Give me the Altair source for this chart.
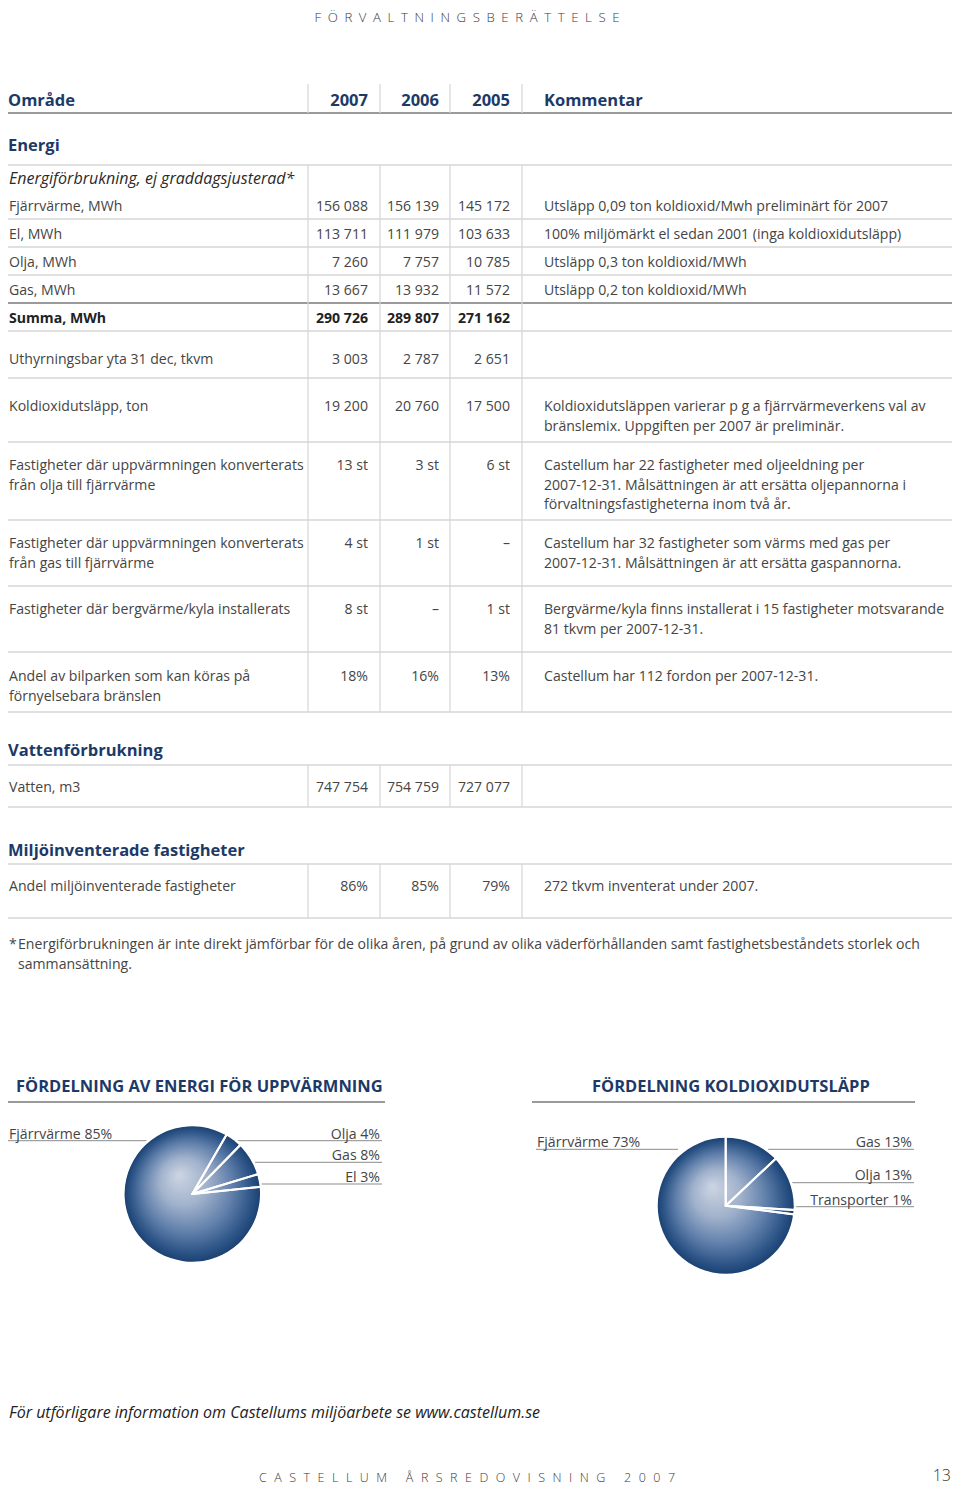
import math
import altair as alt
import pandas as pd

# ---------------- data ----------------
page_header = "FÖRVALTNINGSBERÄTTELSE"
page_footer_words = ["CASTELLUM", "ÅRSREDOVISNING", "2007"]
page_number = "13"

col_headers = ["Område", "Kommentar"]
years = ["2007", "2006", "2005"]
section_titles = ["Energi", "Vattenförbrukning", "Miljöinventerade fastigheter"]

row_labels = [
    "Energiförbrukning, ej graddagsjusterad*",
    "Fjärrvärme, MWh",
    "El, MWh",
    "Olja, MWh",
    "Gas, MWh",
    "Summa, MWh",
    "Uthyrningsbar yta 31 dec, tkvm",
    "Koldioxidutsläpp, ton",
    "Fastigheter där uppvärmningen konverterats\nfrån olja till fjärrvärme",
    "Fastigheter där uppvärmningen konverterats\nfrån gas till fjärrvärme",
    "Fastigheter där bergvärme/kyla installerats",
    "Andel av bilparken som kan köras på\nförnyelsebara bränslen",
    "Vatten, m3",
    "Andel miljöinventerade fastigheter",
]
values_2007 = ["", "156 088", "113 711", "7 260", "13 667", "290 726", "3 003", "19 200",
               "13 st", "4 st", "8 st", "18%", "747 754", "86%"]
values_2006 = ["", "156 139", "111 979", "7 757", "13 932", "289 807", "2 787", "20 760",
               "3 st", "1 st", "–", "16%", "754 759", "85%"]
values_2005 = ["", "145 172", "103 633", "10 785", "11 572", "271 162", "2 651", "17 500",
               "6 st", "–", "1 st", "13%", "727 077", "79%"]
comments = [
    "",
    "Utsläpp 0,09 ton koldioxid/Mwh preliminärt för 2007",
    "100% miljömärkt el sedan 2001 (inga koldioxidutsläpp)",
    "Utsläpp 0,3 ton koldioxid/MWh",
    "Utsläpp 0,2 ton koldioxid/MWh",
    "",
    "",
    "Koldioxidutsläppen varierar p g a fjärrvärmeverkens val av\nbränslemix. Uppgiften per 2007 är preliminär.",
    "Castellum har 22 fastigheter med oljeeldning per\n2007-12-31. Målsättningen är att ersätta oljepannorna i\nförvaltningsfastigheterna inom två år.",
    "Castellum har 32 fastigheter som värms med gas per\n2007-12-31. Målsättningen är att ersätta gaspannorna.",
    "Bergvärme/kyla finns installerat i 15 fastigheter motsvarande\n81 tkvm per 2007-12-31.",
    "Castellum har 112 fordon per 2007-12-31.",
    "",
    "272 tkvm inventerat under 2007.",
]
footnote_mark = "*"
footnote = ("Energiförbrukningen är inte direkt jämförbar för de olika åren, på grund av olika "
            "väderförhållanden samt fastighetsbeståndets storlek och\nsammansättning.")
more_info = "För utförligare information om Castellums miljöarbete se www.castellum.se"

pie1_title = "FÖRDELNING AV ENERGI FÖR UPPVÄRMNING"
pie1_labels = ["Olja", "Gas", "El", "Fjärrvärme"]
pie1_values = [4, 8, 3, 85]
pie2_title = "FÖRDELNING KOLDIOXIDUTSLÄPP"
pie2_labels = ["Gas", "Olja", "Transporter", "Fjärrvärme"]
pie2_values = [13, 13, 1, 73]

# ---------------- layout / style ----------------
FONT = "Open Sans"
BODY = 14.1
LH = 19.5
TEXT = "#454545"
NAVY = "#1c3a68"
LIGHT = "#d6d6d6"
DARK_LINE = "#9a9a9a"

W, H = 944, 1478
X = alt.X("x:Q", scale=alt.Scale(domain=[8, 8 + W], nice=False, zero=False), axis=None)
Y = alt.Y("y:Q", scale=alt.Scale(domain=[8, 8 + H], nice=False, zero=False, reverse=True), axis=None)

LABEL_X = 9
YEAR_RIGHT = [368, 439, 510]
COMMENT_X = 544
DIV_X = [308, 380, 450, 522]
DIV_SPANS = [(84, 113), (165, 712), (765, 807), (864, 918)]
HEADER_Y = 100
SECTION_Y = [145, 750, 850]
SECTION_LINES = [165, 765, 864]
ROW_Y = [179, 206, 234, 262, 290, 318, 359, 406, 465, 543, 609, 676, 787, 886]
ROW_LINES = [219, 247, 275, 331, 378, 442, 520, 586, 652, 712, 807, 918]
THICK_LINES = [113, 303]
ITALIC_ROWS = {0}
BOLD_ROWS = {5}


def off(size):
    return round(0.36 * size)


def tdf(xs, ys, ts):
    return pd.DataFrame({"x": xs, "y": ys, "t": ts})


def tx(df, align="left", size=BODY, weight=400, style="normal", color=TEXT):
    return alt.Chart(df).mark_text(
        align=align, baseline="alphabetic", font=FONT, fontSize=size,
        fontWeight=weight, fontStyle=style, color=color, lineBreak="\n", lineHeight=LH,
    ).encode(x=X, y=Y, text=alt.Text("t:N"))


def hrules(xs, x2s, ys, color, width):
    df = pd.DataFrame({"x": xs, "x2": x2s, "y": ys})
    return alt.Chart(df).mark_rule(color=color, strokeWidth=width).encode(
        x=X, x2=alt.X2("x2:Q"), y=Y)


def vrules(xs, ys, y2s, color, width):
    df = pd.DataFrame({"x": xs, "y": ys, "y2": y2s})
    return alt.Chart(df).mark_rule(color=color, strokeWidth=width).encode(
        x=X, y=Y, y2=alt.Y2("y2:Q"))


layers = []

# grid lines
hl = ROW_LINES + SECTION_LINES
layers.append(hrules([0] * len(hl), [960] * len(hl), hl, LIGHT, 1.3))
layers.append(hrules([0] * len(THICK_LINES), [960] * len(THICK_LINES), THICK_LINES, DARK_LINE, 2))
vx, vy, vy2 = [], [], []
for (a, b) in DIV_SPANS:
    for x in DIV_X:
        vx.append(x); vy.append(a); vy2.append(b)
layers.append(vrules(vx, vy, vy2, LIGHT, 1.2))

# page header / footer
layers.append(tx(tdf([467], [21.5], ["\u2002".join(page_header)]),
                 align="center", size=13.2, weight=300, color="#3a3a3a"))
footer = "\u2003\u2002".join("\u2002\u200a".join(w) for w in page_footer_words)
layers.append(tx(tdf([467], [1482], [footer]), align="center", size=12.5, weight=300,
                 color="#3a3a3a"))
layers.append(tx(tdf([951], [1481], [page_number]), align="right", size=16, weight=300,
                 color="#333333"))

# column headers
HS = 16.5
layers.append(tx(tdf([LABEL_X - 1, COMMENT_X], [HEADER_Y + off(HS)] * 2, col_headers),
                 size=HS, weight="bold", color=NAVY))
layers.append(tx(tdf(YEAR_RIGHT, [HEADER_Y + off(HS)] * 3, years),
                 align="right", size=HS, weight="bold", color=NAVY))
# section titles
layers.append(tx(tdf([LABEL_X - 1] * 3, [y + off(HS) for y in SECTION_Y], section_titles),
                 size=HS, weight="bold", color=NAVY))

# row labels
reg = [i for i in range(len(row_labels)) if i not in ITALIC_ROWS and i not in BOLD_ROWS]
layers.append(tx(tdf([LABEL_X] * len(reg), [ROW_Y[i] + off(BODY) for i in reg],
                     [row_labels[i] for i in reg])))
ita = sorted(ITALIC_ROWS)
layers.append(tx(tdf([LABEL_X] * len(ita), [ROW_Y[i] + off(BODY) for i in ita],
                     [row_labels[i] for i in ita]), style="italic", size=16, color="#2a2a2a"))
bld = sorted(BOLD_ROWS)
layers.append(tx(tdf([LABEL_X] * len(bld), [ROW_Y[i] + off(BODY) for i in bld],
                     [row_labels[i] for i in bld]), weight="bold", color="#222222"))

# values
for j, vals in enumerate([values_2007, values_2006, values_2005]):
    idx = [i for i in reg if vals[i]]
    layers.append(tx(tdf([YEAR_RIGHT[j]] * len(idx), [ROW_Y[i] + off(BODY) for i in idx],
                         [vals[i] for i in idx]), align="right"))
    idb = [i for i in bld if vals[i]]
    layers.append(tx(tdf([YEAR_RIGHT[j]] * len(idb), [ROW_Y[i] + off(BODY) for i in idb],
                         [vals[i] for i in idb]), align="right", weight="bold", color="#222222"))

# comments
idc = [i for i in range(len(comments)) if comments[i]]
layers.append(tx(tdf([COMMENT_X] * len(idc), [ROW_Y[i] + off(BODY) for i in idc],
                     [comments[i] for i in idc])))

# footnote
layers.append(tx(tdf([9], [944 + off(BODY)], [footnote_mark])))
layers.append(tx(tdf([18], [944 + off(BODY)], [footnote])))
layers.append(tx(tdf([9], [1412 + off(16)], [more_info]), size=16, style="italic",
                 color="#222222"))

# ---------------- pies ----------------
GRAD = {
    "gradient": "radial", "x1": 0.4, "y1": 0.36, "r1": 0, "x2": 0.5, "y2": 0.5, "r2": 0.5,
    "stops": [
        {"offset": 0.0, "color": "#cdd5e3"},
        {"offset": 0.35, "color": "#a1b2cc"},
        {"offset": 0.66, "color": "#6180ab"},
        {"offset": 0.88, "color": "#305789"},
        {"offset": 1.0, "color": "#1c4274"},
    ],
}

PIES = [
    dict(title=pie1_title, labels=pie1_labels, values=pie1_values, cx=192.3, cy=1194, r=67.7,
         start=30, title_x=16, title_y=1086, tline=(2, 385, 1102),
         lab=[(380, 1134, "right", 230, 382, 1140.7), (380, 1155, "right", 255, 382, 1162.3),
              (380, 1177, "right", 261, 382, 1184), (9, 1134, "left", 3, 148, 1140.7)]),
    dict(title=pie2_title, labels=pie2_labels, values=pie2_values, cx=725.7, cy=1205.7, r=68,
         start=0, title_x=592, title_y=1086, tline=(532, 915, 1102),
         lab=[(912, 1142, "right", 768, 914, 1149.3), (912, 1175, "right", 791, 914, 1182.7),
              (912, 1200, "right", 793, 914, 1206.7), (537, 1142, "left", 536, 678, 1149.3)]),
]

for p in PIES:
    total = sum(p["values"])
    s = math.radians(p["start"])
    tscale = alt.Scale(domain=[0, total], range=[s, s + 2 * math.pi])
    # title + underline
    layers.append(tx(tdf([p["title_x"]], [p["title_y"] + off(16.5)], [p["title"]]),
                     size=16.5, weight="bold", color=NAVY))
    a, b, yy = p["tline"]
    layers.append(hrules([a], [b], [yy], DARK_LINE, 2))
    # leader lines
    layers.append(hrules([l[3] for l in p["lab"]], [l[4] for l in p["lab"]],
                         [l[5] for l in p["lab"]], "#8a8a8a", 1))
    # labels
    for al in ["left", "right"]:
        ids = [k for k, l in enumerate(p["lab"]) if l[2] == al]
        layers.append(tx(tdf([p["lab"][k][0] for k in ids], [p["lab"][k][1] + off(BODY) for k in ids],
                             [f"{p['labels'][k]} {p['values'][k]}%" for k in ids]), align=al))
    # disc
    disc = pd.DataFrame({"x": [p["cx"]], "y": [p["cy"]], "a0": [0], "a1": [total]})
    layers.append(alt.Chart(disc).mark_arc(radius=p["r"], fill=GRAD).encode(
        x=X, y=Y, theta=alt.Theta("a0:Q", scale=tscale), theta2=alt.Theta2("a1:Q")))
    # slice borders
    sl = pd.DataFrame({"label": p["labels"], "v": p["values"], "order": list(range(len(p["values"])))})
    sl["x"] = p["cx"]
    sl["y"] = p["cy"]
    layers.append(
        alt.Chart(sl)
        .transform_window(cum="sum(v)", sort=[alt.SortField("order")], frame=[None, 0])
        .transform_calculate(a0="datum.cum - datum.v")
        .mark_arc(radius=p["r"] + 1.6, fill="white", fillOpacity=0, stroke="white",
                  strokeWidth=2, strokeJoin="round")
        .encode(x=X, y=Y, theta=alt.Theta("a0:Q", scale=tscale), theta2=alt.Theta2("cum:Q"))
    )

chart = (
    alt.layer(*layers)
    .resolve_scale(theta="independent")
    .properties(width=W, height=H, padding=0, autosize=alt.AutoSizeParams(type="none"),
                background="white")
    .configure_view(stroke=None)
)

chart.save("out.html", embed_options={"renderer": "svg", "actions": False})
